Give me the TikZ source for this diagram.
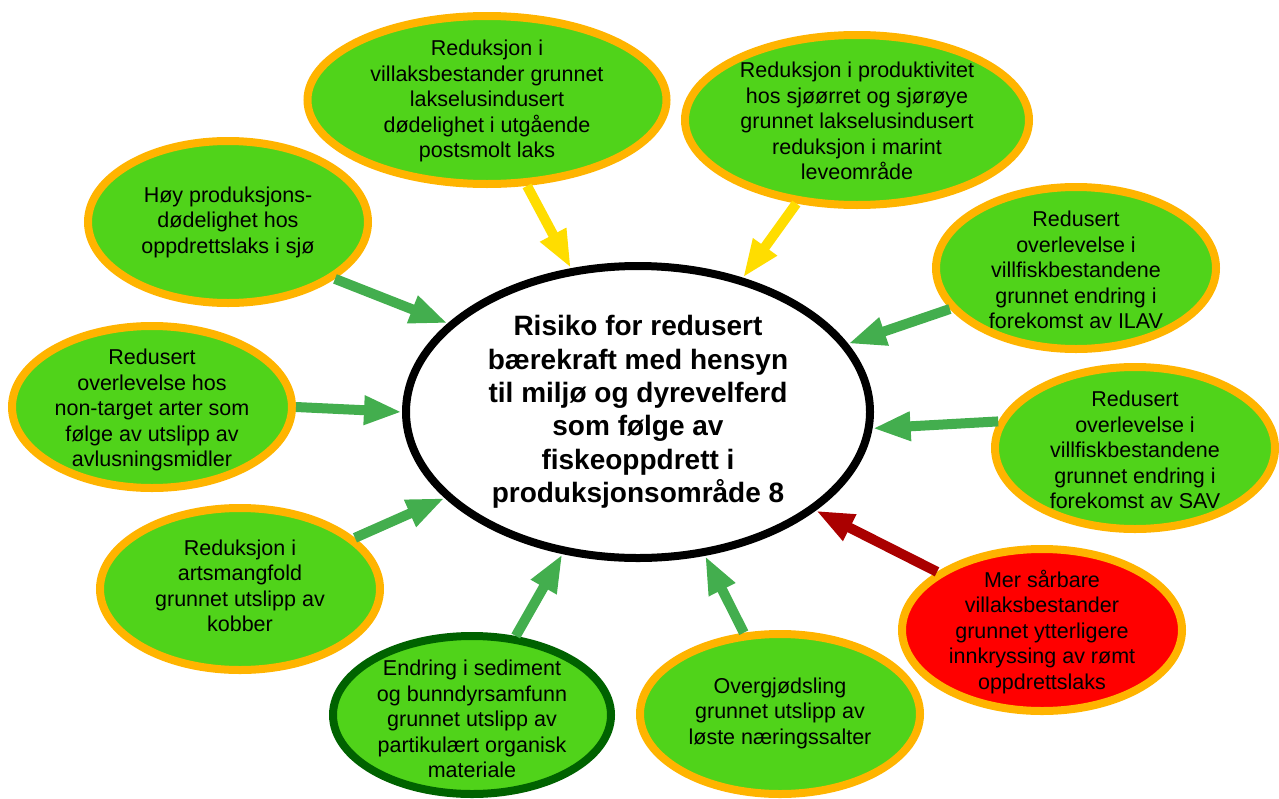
\documentclass[tikz,border=0pt]{standalone}
\usepackage{fontspec}
\setmainfont{Liberation Sans}
\usetikzlibrary{shapes.geometric,arrows.meta}
\definecolor{fillgreen}{RGB}{80,211,26}
\definecolor{rimorange}{RGB}{255,180,0}
\definecolor{rimdark}{RGB}{0,98,0}
\definecolor{arrgreen}{RGB}{67,174,78}
\definecolor{arryellow}{RGB}{255,221,0}
\definecolor{arrred}{RGB}{170,0,0}
\definecolor{boxred}{RGB}{255,0,0}
\tikzset{
  el/.style={ellipse, draw=rimorange, line width=8pt, fill=fillgreen, inner sep=0pt, minimum width=280pt, minimum height=162pt},
  txt/.style={align=center, text=black, inner sep=0pt, font=\fontsize{21.5}{25.5}\selectfont},
  ctxt/.style={align=center, text=black, inner sep=0pt, font=\fontsize{28}{33.4}\selectfont\bfseries},
  arr/.style={line width=10pt, -{Triangle[length=38pt,width=27pt]}},
}
\begin{document}
\begin{tikzpicture}[x=1pt,y=-1pt]
\useasboundingbox (0,0) rectangle (1279,798);
% central ellipse
\node[ellipse, draw=black, line width=8pt, fill=white, inner sep=0pt, minimum width=464pt, minimum height=292pt,
  label={[ctxt,yshift=0pt]center:{Risiko for redusert\\bærekraft med hensyn\\til miljø og dyrevelferd\\som følge av\\fiskeoppdrett i\\produksjonsområde 8}}] (C) at (638,412) {};
% surrounding ellipses
\node[el, minimum width=359pt, minimum height=168pt,
  label={[txt,yshift=-1pt]center:{Reduksjon i\\villaksbestander grunnet\\lakselusindusert\\dødelighet i utgående\\postsmolt laks}}] (V) at (487,100) {};
\node[el, minimum width=344pt, minimum height=170pt,
  label={[txt,yshift=-1pt]center:{Reduksjon i produktivitet\\hos sjøørret og sjørøye\\grunnet lakselusindusert\\reduksjon i marint\\leveområde}}] (P) at (857,120) {};
\node[el,
  label={[txt]center:{Høy produksjons-\\dødelighet hos\\oppdrettslaks i sjø}}] (H) at (228,222) {};
\node[el,
  label={[txt,yshift=-2pt]center:{Redusert\\overlevelse i\\villfiskbestandene\\grunnet endring i\\forekomst av ILAV}}] (I) at (1076,268) {};
\node[el,
  label={[txt,yshift=-3pt]center:{Redusert\\overlevelse hos\\non-target arter som\\følge av utslipp av\\avlusningsmidler}}] (N) at (152,407) {};
\node[el,
  label={[txt,yshift=-2pt]center:{Redusert\\overlevelse i\\villfiskbestandene\\grunnet endring i\\forekomst av SAV}}] (S) at (1135,448) {};
\node[el,
  label={[txt,yshift=3pt]center:{Reduksjon i\\artsmangfold\\grunnet utslipp av\\kobber}}] (A) at (240,589) {};
\node[el, draw=rimdark, minimum width=278pt, minimum height=158pt,
  label={[txt,yshift=-4pt]center:{Endring i sediment\\og bunndyrsamfunn\\grunnet utslipp av\\partikulært organisk\\materiale}}] (E) at (472,715) {};
\node[el, minimum height=160pt,
  label={[txt,yshift=1pt]center:{Overgjødsling\\grunnet utslipp av\\løste næringssalter}}] (O) at (780,714) {};
\node[el, fill=boxred,
  label={[txt,yshift=-2pt]center:{Mer sårbare\\villaksbestander\\grunnet ytterligere\\innkryssing av rømt\\oppdrettslaks}}] (R) at (1042,630) {};
% arrows
\draw[arr, arryellow] (V.-65.6) -- (C.115.5);
\draw[arr, arryellow] (P.234.8) -- (C.52.8);
\draw[arr, arrgreen] (H.-28) -- (C.155.2);
\draw[arr, arrgreen] (I.198.7) -- (C.18.1);
\draw[arr, arrgreen] (N.0) -- (C.180.2);
\draw[arr, arrgreen] (S.169.5) -- (C.-4.8);
\draw[arr, arrgreen] (A.24.3) -- (C.204.3);
\draw[arr, arrgreen] (E.61.8) -- (C.242.3);
\draw[arr, arrgreen] (O.114.3) -- (C.295.6);
\draw[arr, arrred] (R.151.3) -- (C.331.5);
\end{tikzpicture}
\end{document}
